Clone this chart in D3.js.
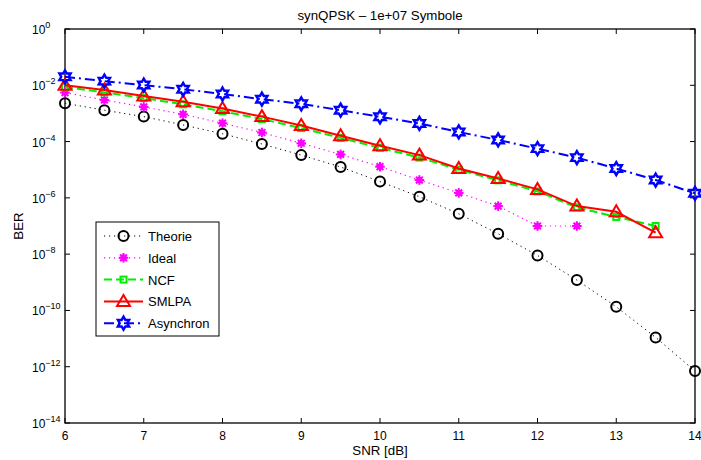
<!DOCTYPE html>
<html>
<head>
<meta charset="utf-8">
<script src="https://cdn.jsdelivr.net/npm/d3@7"></script>
<style>
  body { margin: 0; background: #fff; }
  text { font-family: "Liberation Sans", Arial, Helvetica, sans-serif; }
</style>
</head>
<body>
<div id="chart"></div>
<script>
const snr = [6, 6.5, 7, 7.5, 8, 8.5, 9, 9.5, 10, 10.5, 11, 11.5, 12, 12.5, 13, 13.5, 14];
const theorie = [2.3e-3, 1.3e-3, 7.7e-4, 3.9e-4, 1.9e-4, 8.2e-5, 3.3e-5, 1.25e-5, 3.8e-6, 1.1e-6, 2.7e-7, 5.3e-8, 9e-9, 1.2e-9, 1.35e-10, 1.1e-11, 7e-13];
const ideal = [5.5e-3, 3e-3, 1.7e-3, 9.3e-4, 4.5e-4, 2.1e-4, 8.7e-5, 3.5e-5, 1.28e-5, 4.3e-6, 1.5e-6, 5.1e-7, 1e-7, 1e-7];
const ncf = [8.5e-3, 5.6e-3, 3.5e-3, 2.1e-3, 1.2e-3, 6.3e-4, 3e-4, 1.35e-4, 6e-5, 2.7e-5, 1e-5, 4.2e-6, 1.7e-6, 4.6e-7, 2.1e-7, 1e-7];
const smlpa = [1e-2, 6.8e-3, 4.2e-3, 2.6e-3, 1.5e-3, 7.7e-4, 3.7e-4, 1.6e-4, 7.1e-5, 3.3e-5, 1.1e-5, 4.9e-6, 2e-6, 5.1e-7, 3.2e-7, 5.8e-8];
const asynchron = [2e-2, 1.4e-2, 1.02e-2, 7.2e-3, 4.9e-3, 3.2e-3, 2.2e-3, 1.3e-3, 7.6e-4, 4.4e-4, 2.2e-4, 1.14e-4, 5.6e-5, 2.7e-5, 1.1e-5, 4.3e-6, 1.45e-6];
const xTicks = [6, 7, 8, 9, 10, 11, 12, 13, 14];
const yExps = [0, -2, -4, -6, -8, -10, -12, -14];

const series = [
  { name: "Theorie", values: theorie, color: "#000000", dash: "1.2,3.8", width: 1, marker: "circle" },
  { name: "Ideal", values: ideal, color: "#ff00ff", dash: "1.2,3.8", width: 1.2, marker: "asterisk" },
  { name: "NCF", values: ncf, color: "#00ee00", dash: "8,4", width: 2, marker: "square" },
  { name: "SMLPA", values: smlpa, color: "#ff0000", dash: null, width: 2, marker: "triangle" },
  { name: "Asynchron", values: asynchron, color: "#0000ff", dash: "10,4,2,4", width: 2, marker: "hexagram" }
];

const W = 701, H = 460;
const margin = { top: 29, right: 6, bottom: 37, left: 65 };
const width = W - margin.left - margin.right;
const height = H - margin.top - margin.bottom;

const svg = d3.select("#chart").append("svg")
  .attr("width", W)
  .attr("height", H);

const g = svg.append("g")
  .attr("transform", `translate(${margin.left},${margin.top})`);

const x = d3.scaleLinear().domain([6, 14]).range([0, width]);
const y = d3.scaleLog().domain([1e-14, 1]).range([height, 0]);

// ticks (inward, both sides)
const tk = 5;
xTicks.forEach(t => {
  g.append("line").attr("x1", x(t)).attr("x2", x(t)).attr("y1", height).attr("y2", height - tk)
    .attr("stroke", "#000").attr("stroke-width", 1);
  g.append("line").attr("x1", x(t)).attr("x2", x(t)).attr("y1", 0).attr("y2", tk)
    .attr("stroke", "#000").attr("stroke-width", 1);
  g.append("text")
    .attr("x", x(t)).attr("y", height + 17)
    .attr("text-anchor", "middle")
    .attr("font-size", "12px")
    .text(t);
});

yExps.forEach(e => {
  const v = Math.pow(10, e);
  g.append("line").attr("x1", 0).attr("x2", tk).attr("y1", y(v)).attr("y2", y(v))
    .attr("stroke", "#000").attr("stroke-width", 1);
  g.append("line").attr("x1", width).attr("x2", width - tk).attr("y1", y(v)).attr("y2", y(v))
    .attr("stroke", "#000").attr("stroke-width", 1);
  const lbl = g.append("text")
    .attr("x", -33).attr("y", y(v) + 5)
    .attr("text-anchor", "start")
    .attr("font-size", "12px");
  lbl.append("tspan").text("10");
  lbl.append("tspan").attr("dy", -6).attr("font-size", "9px").text(e === 0 ? "0" : "\u2212" + (-e));
});

// box
g.append("rect")
  .attr("x", 0).attr("y", 0).attr("width", width).attr("height", height)
  .attr("fill", "none").attr("stroke", "#000").attr("stroke-width", 1.3);

// markers
const starPath = (r) => {
  const pts = [];
  for (let i = 0; i < 12; i++) {
    const a = -Math.PI / 2 + i * Math.PI / 6;
    const rr = i % 2 === 0 ? r : r * 0.58;
    pts.push([rr * Math.cos(a), rr * Math.sin(a)]);
  }
  return "M" + pts.map(p => p.join(",")).join("L") + "Z";
};

const drawMarker = (sel, type, color) => {
  if (type === "circle") {
    sel.append("circle").attr("r", 5).attr("fill", "none").attr("stroke", color).attr("stroke-width", 2);
  } else if (type === "asterisk") {
    sel.append("circle").attr("r", 3.2).attr("fill", color);
    for (let i = 0; i < 4; i++) {
      const a = i * Math.PI / 4;
      sel.append("line")
        .attr("x1", -4.8 * Math.cos(a)).attr("y1", -4.8 * Math.sin(a))
        .attr("x2", 4.8 * Math.cos(a)).attr("y2", 4.8 * Math.sin(a))
        .attr("stroke", color).attr("stroke-width", 2);
    }
  } else if (type === "square") {
    sel.append("rect").attr("x", -3).attr("y", -3).attr("width", 6).attr("height", 6)
      .attr("fill", "none").attr("stroke", color).attr("stroke-width", 2);
  } else if (type === "triangle") {
    sel.append("path").attr("d", "M0,-6.5L6.5,4.5L-6.5,4.5Z")
      .attr("fill", "none").attr("stroke", color).attr("stroke-width", 2);
  } else if (type === "hexagram") {
    sel.append("path").attr("d", starPath(6.5))
      .attr("fill", "none").attr("stroke", color).attr("stroke-width", 2.4);
  }
};

const line = d3.line()
  .x(d => x(d[0]))
  .y(d => y(d[1]));

series.forEach(s => {
  const pts = s.values.map((v, i) => [snr[i], v]);
  g.append("path")
    .datum(pts)
    .attr("fill", "none")
    .attr("stroke", s.color)
    .attr("stroke-width", s.width)
    .attr("stroke-dasharray", s.dash)
    .attr("d", line);
  pts.forEach(p => {
    const m = g.append("g").attr("transform", `translate(${x(p[0])},${y(p[1])})`);
    drawMarker(m, s.marker, s.color);
  });
});

// title and labels
svg.append("text")
  .attr("x", margin.left + width / 2).attr("y", 20)
  .attr("text-anchor", "middle")
  .attr("font-size", "13.3px")
  .text("synQPSK \u2013 1e+07 Symbole");

svg.append("text")
  .attr("x", margin.left + width / 2).attr("y", H - 5)
  .attr("text-anchor", "middle")
  .attr("font-size", "13.3px")
  .text("SNR [dB]");

svg.append("text")
  .attr("transform", `translate(23,${margin.top + height / 2}) rotate(-90)`)
  .attr("text-anchor", "middle")
  .attr("font-size", "13.3px")
  .text("BER");

// legend
const lg = svg.append("g").attr("transform", "translate(96,222)");
lg.append("rect").attr("x", 0).attr("y", 0).attr("width", 123).attr("height", 114)
  .attr("fill", "#fff").attr("stroke", "#000").attr("stroke-width", 1);
series.forEach((s, i) => {
  const yy = 14 + i * 21.8;
  lg.append("line")
    .attr("x1", 8).attr("x2", 47).attr("y1", yy).attr("y2", yy)
    .attr("stroke", s.color).attr("stroke-width", s.width)
    .attr("stroke-dasharray", s.dash);
  const m = lg.append("g").attr("transform", `translate(27.5,${yy})`);
  drawMarker(m, s.marker, s.color);
  lg.append("text")
    .attr("x", 52).attr("y", yy + 5)
    .attr("font-size", "13px")
    .text(s.name);
});
</script>
</body>
</html>
